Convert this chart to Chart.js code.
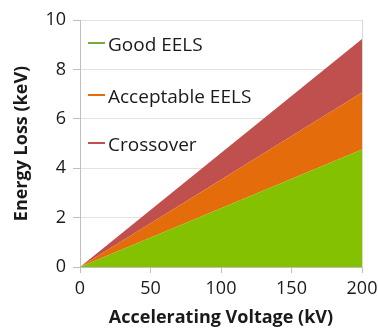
<!DOCTYPE html>
<html lang="en">
<head>
    <meta charset="UTF-8">
    <title>EELS Energy Loss</title>
    <script src="https://cdn.jsdelivr.net/npm/chart.js"></script>
    <style>
        body { margin: 0; background: #fff; }
        #wrap { width: 378px; height: 331px; }
    </style>
</head>
<body>
    <div id="wrap"><canvas id="eelsChart" width="378" height="331"></canvas></div>

    <script>
        // boundaries of each region (keV) at the given voltages (kV)
        const voltage = [0, 200];
        const good = [0, 4.76];
        const acceptable = [0, 7.06];
        const crossover = [0, 9.23];
        const yTicks = [0, 2, 4, 6, 8, 10];
        const xTicks = [0, 50, 100, 150, 200];

        const labels = ['Good EELS', 'Acceptable EELS', 'Crossover'];
        const fills = ['#84C100', '#E46C0A', '#C0504D'];
        const lineColors = ['#7BAA3C', '#E46C0A', '#C0504D'];
        const font = '"Open Sans", sans-serif';

        const pts = arr => arr.map((v, i) => ({ x: voltage[i], y: v }));

        // legend drawn inside the plot, like the original
        const insideLegend = {
            id: 'insideLegend',
            afterDatasetsDraw(chart) {
                const ctx = chart.ctx;
                const area = chart.chartArea;
                const rows = [45, 97, 145];
                ctx.save();
                ctx.font = '19px ' + font;
                ctx.textBaseline = 'middle';
                labels.forEach((t, i) => {
                    ctx.strokeStyle = lineColors[i];
                    ctx.lineWidth = 2;
                    ctx.beginPath();
                    ctx.moveTo(area.left + 8, rows[i] - 2);
                    ctx.lineTo(area.left + 25, rows[i] - 2);
                    ctx.stroke();
                    ctx.fillStyle = '#1a1a1a';
                    ctx.fillText(t, area.left + 28, rows[i] + 1);
                });
                // right-hand border of the plot
                ctx.strokeStyle = '#D9D9D9';
                ctx.lineWidth = 1;
                ctx.beginPath();
                ctx.moveTo(area.right + 0.5, area.top);
                ctx.lineTo(area.right + 0.5, area.bottom);
                ctx.stroke();
                ctx.restore();
            }
        };

        new Chart(document.getElementById('eelsChart').getContext('2d'), {
            type: 'line',
            data: {
                datasets: [
                    { label: labels[0], data: pts(good), backgroundColor: fills[0], fill: 'origin' },
                    { label: labels[1], data: pts(acceptable), backgroundColor: fills[1], fill: '-1' },
                    { label: labels[2], data: pts(crossover), backgroundColor: fills[2], fill: '-1' }
                ].map(d => Object.assign(d, { borderWidth: 0, pointRadius: 0, tension: 0 }))
            },
            options: {
                responsive: false,
                animation: false,
                layout: { padding: { top: 20, right: 16, left: 0, bottom: 0 } },
                plugins: { legend: { display: false }, tooltip: { enabled: false } },
                scales: {
                    x: {
                        type: 'linear',
                        min: 0, max: 200,
                        afterBuildTicks: s => { s.ticks = xTicks.map(v => ({ value: v })); },
                        // the "200" label is allowed to run off the right edge, as in the original
                        afterFit: s => { s.height = 64; s.paddingRight = 0; },
                        grid: { drawOnChartArea: false, color: '#BFBFBF', tickLength: 6 },
                        border: { color: '#BFBFBF' },
                        ticks: { color: '#1a1a1a', font: { size: 18, family: font }, padding: 5, maxRotation: 0 },
                        title: { display: true, text: 'Accelerating Voltage (kV)', color: '#1a1a1a',
                                 font: { size: 18, weight: 'bold', family: font }, padding: { bottom: 2 } }
                    },
                    y: {
                        min: 0, max: 10,
                        afterBuildTicks: s => { s.ticks = yTicks.map(v => ({ value: v })); },
                        afterFit: s => { s.width = 80; },
                        grid: { color: '#E3E3E3', tickColor: '#BFBFBF', tickLength: 7 },
                        border: { color: '#BFBFBF' },
                        ticks: { color: '#1a1a1a', font: { size: 18, family: font }, padding: 7 },
                        title: { display: true, text: 'Energy Loss (keV)', color: '#1a1a1a',
                                 font: { size: 18, weight: 'bold', family: font }, padding: { top: 11 } }
                    }
                }
            },
            plugins: [insideLegend]
        });
    </script>
</body>
</html>
